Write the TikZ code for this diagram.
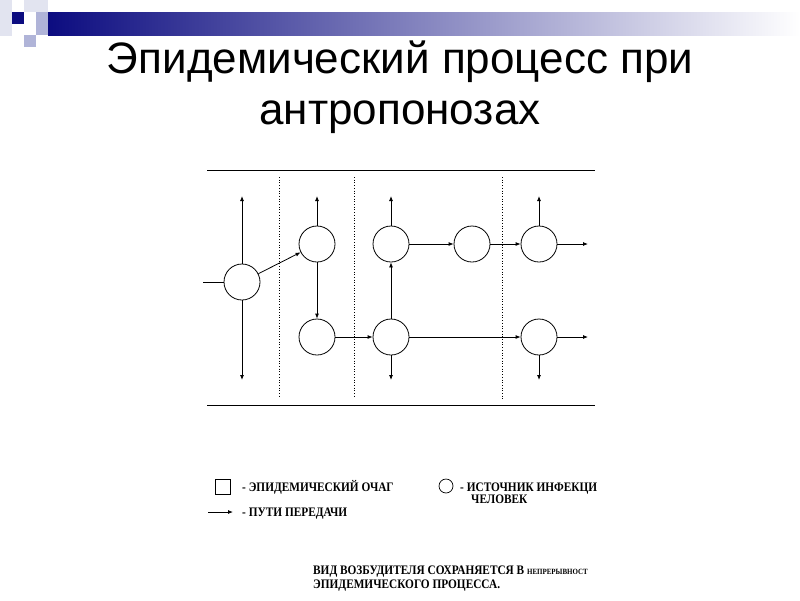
\documentclass[tikz,border=0pt]{standalone}
\usepackage{fontspec}
\setmainfont{Liberation Serif}
\newfontfamily\titlefont{Liberation Sans}
\newfontfamily\scanfont[FakeStretch=0.87]{Liberation Serif Bold}
\usetikzlibrary{arrows.meta}
\definecolor{navy}{RGB}{12,12,128}
\definecolor{lav}{RGB}{176,180,216}
\definecolor{pale}{RGB}{226,228,240}

\begin{document}
\begin{tikzpicture}[x=1pt, y=-1pt, >={Latex[length=5pt,width=4pt]},
  src/.style={circle, draw, minimum size=36pt, inner sep=0pt, line width=0.8pt},
  route/.style={->, line width=0.8pt},
  bound/.style={line width=0.9pt},
  zone/.style={dotted, line width=0.7pt},
  legend/.style={anchor=base west, inner sep=0pt, font=\scanfont\fontsize{13}{13}\selectfont}]
  \useasboundingbox (0,0) rectangle (800,600);
  % slide decoration
  \fill[pale] (0,0) rectangle (12,36);
  \fill[pale] (24,0) rectangle (48,12);
  \fill[navy] (12,12) rectangle (24,24);
  \fill[lav] (36,12) rectangle (48,35);
  \fill[lav] (24,35) rectangle (36,47);
  \shade[left color=navy, right color=white] (48,12) rectangle (800,35);
  \node[anchor=base, font=\titlefont\fontsize{44}{44}\selectfont] (t1) at (400,73) {Эпидемический процесс при};
  \node[anchor=base, font=\titlefont\fontsize{44}{44}\selectfont] (t2) at (400,124) {антропонозах};

  % bounds and zones
  \coordinate (bl1) at (207,170); \coordinate (br1) at (595,170);
  \coordinate (bl2) at (207,405); \coordinate (br2) at (595,405);
  \draw[bound] (bl1) -- (br1);
  \draw[bound] (bl2) -- (br2);
  \draw[zone] (279,177) -- (279,398);
  \draw[zone] (354,177) -- (354,398);
  \draw[zone] (502,177) -- (502,400);

  \node[src] (s1) at (242,282) {};
  \node[src] (s2) at (317,244) {};
  \node[src] (s3) at (317,337) {};
  \node[src] (s4) at (391,244) {};
  \node[src] (s5) at (391,337) {};
  \node[src] (s6) at (472,244) {};
  \node[src] (s7) at (539,244) {};
  \node[src] (s8) at (539,337) {};

  \coordinate (in) at (203,282);
  \coordinate (u1) at (242,196); \coordinate (d1) at (242,380);
  \coordinate (u2) at (317,196);
  \coordinate (u4) at (391,196); \coordinate (d5) at (391,380);
  \coordinate (u7) at (539,196); \coordinate (r7) at (588,244);
  \coordinate (d8) at (539,380); \coordinate (r8) at (588,337);

  \draw[line width=0.9pt] (in) -- (s1);
  \draw[route] (s1) -- (u1);
  \draw[route] (s1) -- (d1);
  \draw[route] (s1) -- (s2);
  \draw[route] (s2) -- (u2);
  \draw[route] (s2) -- (s3);
  \draw[route] (s3) -- (s5);
  \draw[route] (s5) -- (s4);
  \draw[route] (s5) -- (d5);
  \draw[route] (s4) -- (u4);
  \draw[route] (s4) -- (s6);
  \draw[route] (s6) -- (s7);
  \draw[route] (s7) -- (u7);
  \draw[route] (s7) -- (r7);
  \draw[route] (s5) -- (s8);
  \draw[route] (s8) -- (d8);
  \draw[route] (s8) -- (r8);

  % legend
  \node[draw, line width=0.8pt, minimum size=15pt, inner sep=0pt] (sq) at (223,487) {};
  \node[legend] (sqt) at (242,491) {- ЭПИДЕМИЧЕСКИЙ ОЧАГ};
  \node[circle, draw, line width=0.7pt, minimum size=14pt, inner sep=0pt] (ci) at (446,486) {};
  \node[legend] (cit) at (460,491) {- ИСТОЧНИК ИНФЕКЦИ};
  \node[legend] (cit2) at (471,503) {ЧЕЛОВЕК};
  \coordinate (ar1) at (208,512); \coordinate (ar2) at (233,512);
  \draw[route] (ar1) -- (ar2);
  \node[legend] (art) at (242,516) {- ПУТИ ПЕРЕДАЧИ};

  \node[legend] (n1) at (313,574) {ВИД ВОЗБУДИТЕЛЯ СОХРАНЯЕТСЯ В {\fontsize{8}{8}\selectfont НЕПРЕРЫВНОСТ}};
  \node[legend] (n2) at (313,588) {ЭПИДЕМИЧЕСКОГО ПРОЦЕССА.};
\end{tikzpicture}
\end{document}
